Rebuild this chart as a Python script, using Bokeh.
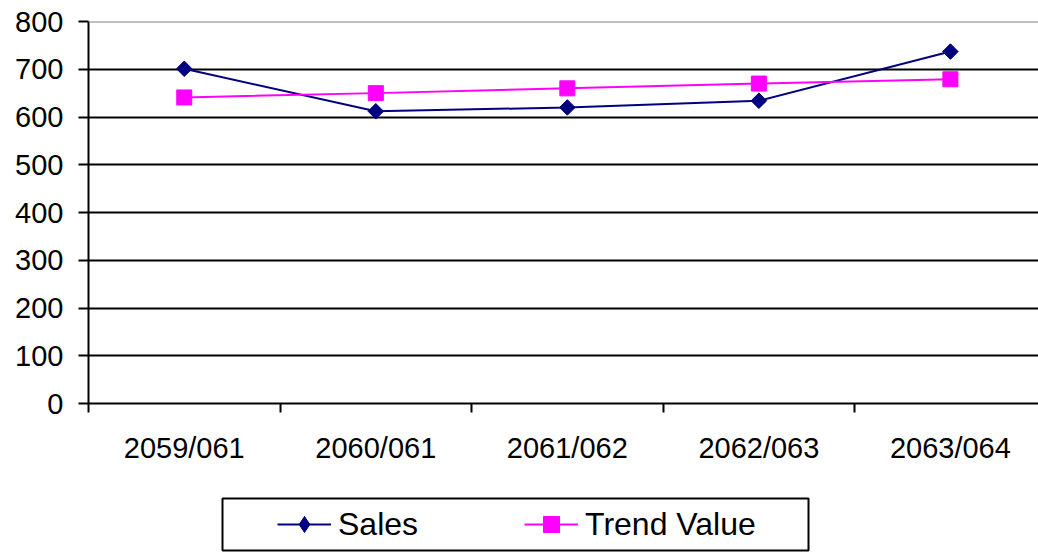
import numpy as np
from bokeh.plotting import figure
from bokeh.layouts import column
from bokeh.models import (Range1d, FixedTicker, Span, Legend, LegendItem,
                          ColumnDataSource, BoxAnnotation)
from bokeh.embed import file_html
from bokeh.resources import INLINE

# ---- data ----
categories = ["2059/061", "2060/061", "2061/062", "2062/063", "2063/064"]
sales = [701, 612, 620, 634, 737]
trend = [641, 650, 660, 670, 679]
y_ticks = [0, 100, 200, 300, 400, 500, 600, 700, 800]

FONT = "Liberation Sans"
NAVY = "#000080"
MAGENTA = "#FF00FF"

xpos = [i + 0.5 for i in range(len(categories))]
src = ColumnDataSource(dict(x=xpos, sales=sales, trend=trend, cat=categories))

p = figure(width=1038, height=480, output_backend="svg", toolbar_location=None,
           x_range=Range1d(0, 4.96), y_range=Range1d(0, 800),
           min_border_left=88, min_border_right=0, min_border_top=21,
           min_border_bottom=77)
p.outline_line_color = None
p.background_fill_color = "white"
p.border_fill_color = "white"

# x axis: labels at category centres, tick marks at category boundaries
xa = p.xaxis[0]
xa.ticker = FixedTicker(ticks=xpos, minor_ticks=list(range(len(categories) + 1)))
xa.major_label_overrides = {x: c for x, c in zip(xpos, categories)}
xa.major_tick_line_color = None
xa.minor_tick_line_color = "black"
xa.minor_tick_line_width = 2
xa.minor_tick_out = 9
xa.minor_tick_in = 0
xa.axis_line_color = "black"
xa.axis_line_width = 2
xa.major_label_text_font = FONT
xa.major_label_text_font_size = "29px"
xa.major_label_text_color = "black"
xa.major_label_standoff = 19

ya = p.yaxis[0]
ya.ticker = FixedTicker(ticks=y_ticks, minor_ticks=[])
ya.major_tick_line_color = "black"
ya.major_tick_line_width = 2
ya.major_tick_out = 10
ya.major_tick_in = 0
ya.axis_line_color = "black"
ya.axis_line_width = 2
ya.major_label_text_font = FONT
ya.major_label_text_font_size = "29px"
ya.major_label_text_color = "black"
ya.major_label_standoff = 15

p.xgrid.grid_line_color = None
p.ygrid.ticker = FixedTicker(ticks=y_ticks[1:-1])
p.ygrid.grid_line_color = "black"
p.ygrid.grid_line_width = 2
p.add_layout(Span(location=y_ticks[-1], dimension="width",
                  line_color="#808080", line_width=2))

# series
line_sales = dict(line_color=NAVY, line_width=2)
mark_sales = dict(marker="square", angle=np.pi / 4, fill_color=NAVY, line_color=NAVY)
line_trend = dict(line_color=MAGENTA, line_width=2)
mark_trend = dict(marker="square", fill_color=MAGENTA, line_color=MAGENTA)

p.line("x", "sales", source=src, **line_sales)
p.scatter("x", "sales", source=src, size=11, **mark_sales)
p.line("x", "trend", source=src, **line_trend)
p.scatter("x", "trend", source=src, size=15, **mark_trend)

# ---- legend strip (separate canvas below the chart; frame aligned with the chart's) ----
lg = figure(width=1038, height=72, output_backend="svg", toolbar_location=None,
            x_range=Range1d(88, 1038), y_range=Range1d(552, 480),
            x_axis_type=None, y_axis_type=None,
            min_border_left=88, min_border_right=0, min_border_top=0,
            min_border_bottom=0)
lg.outline_line_color = None
lg.grid.grid_line_color = None
lg.background_fill_color = "white"
lg.border_fill_color = "white"

lg.add_layout(BoxAnnotation(left=222, right=808, top=498, bottom=550,
                            fill_color="white", fill_alpha=1.0,
                            line_color="black", line_alpha=1.0, line_width=2))

# legend entries reuse the series (they fall outside this strip's view)
r1 = lg.line("x", "sales", source=src, **line_sales)
r2 = lg.scatter("x", "sales", source=src, marker="diamond",
                fill_color=NAVY, line_color=NAVY)
r3 = lg.line("x", "trend", source=src, **line_trend)
r4 = lg.scatter("x", "trend", source=src, **mark_trend)

legend = Legend(items=[LegendItem(label="Sales", renderers=[r1, r2]),
                       LegendItem(label="Trend Value", renderers=[r3, r4])],
                location=(189, 8), orientation="horizontal",
                padding=0, margin=0, spacing=106, label_standoff=7,
                glyph_width=54, glyph_height=40,
                label_text_font=FONT, label_text_font_size="32px",
                label_text_color="black",
                border_line_color=None, background_fill_alpha=0)
lg.add_layout(legend)

layout = column(p, lg, spacing=0)
open("out.html", "w").write(file_html(layout, INLINE))
